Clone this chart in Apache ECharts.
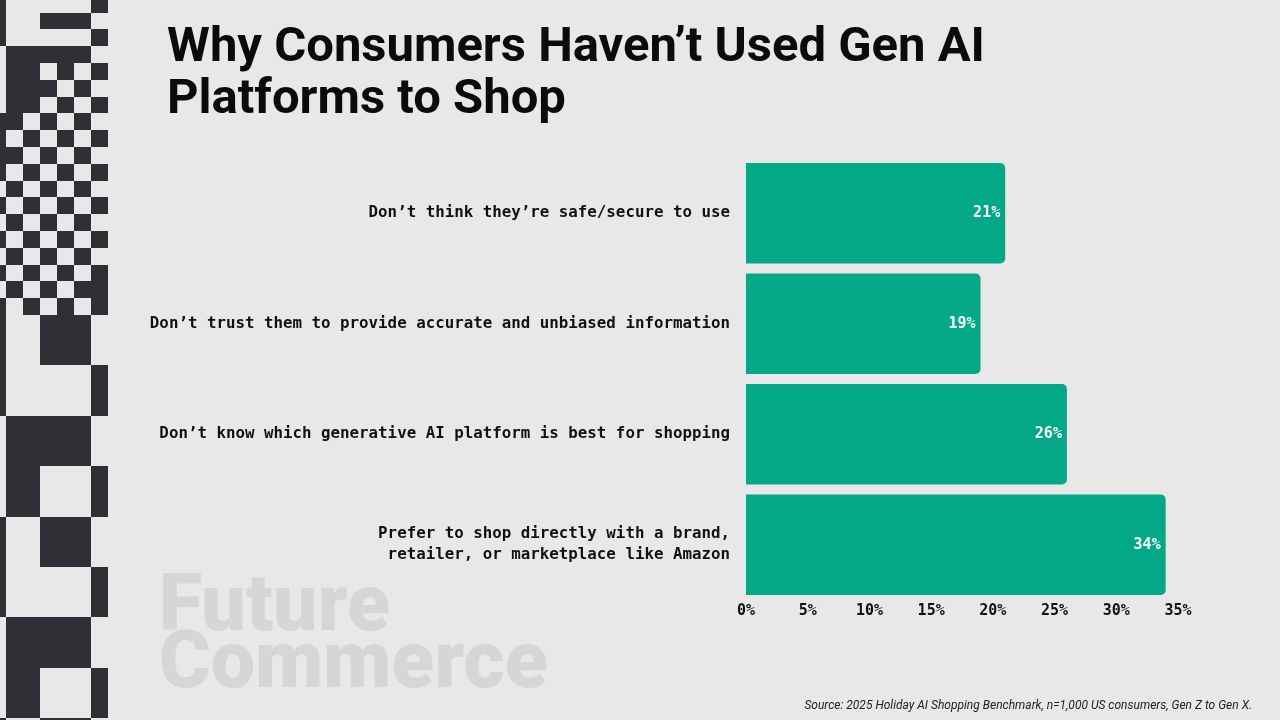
<!DOCTYPE html>
<html>
<head>
<meta charset="utf-8">
<title>Why Consumers Haven’t Used Gen AI Platforms to Shop</title>
<script src="https://cdn.jsdelivr.net/npm/echarts/dist/echarts.min.js"></script>
<style>
  html, body { margin: 0; padding: 0; background: #e8e8e8; }
  #chart { width: 1280px; height: 720px; }
</style>
</head>
<body>
<div id="chart"></div>
<script>
const reasons = [
    'Don’t think they’re safe/secure to use',
    'Don’t trust them to provide accurate and unbiased information',
    'Don’t know which generative AI platform is best for shopping',
    'Prefer to shop directly with a brand,\nretailer, or marketplace like Amazon',
];
const shares = [21, 19, 26, 34];
const xTicks = [0, 5, 10, 15, 20, 25, 30, 35];

// left-edge decoration, one string per row, '#' = dark cell
const checker = [
    '#.....#', '#..###.', '#.....#', '.#####.', '.##.#.#', '.###.#.',
    '.##.#.#', '##.#.#.', '#.#.#.#', '##.#.#.', '#.#.#.#', '.#.#.#.',
    '#.#.#.#', '.#.#.#.', '#.#.#.#', '.#.#.#.', '#.#.#.#', '.#.#.##',
    '#.#.#.#', '#..###.', '#..###.', '#..###.', '#.....#', '#.....#',
    '#.....#', '.#####.', '.#####.', '.#####.', '.##...#', '.##...#',
    '.##...#', '#..###.', '#..###.', '#..###.', '#.....#', '#.....#',
    '#.....#', '.#####.', '.#####.', '.#####.', '.##...#', '.##...#',
    '.##...#', '#..###.',
];

const chart = echarts.init(document.getElementById('chart'));

// snap cell edges to whole pixels so neighbouring cells don't leave seams
const rowEdge = (r) => Math.round(-4.3 + r * 16.8);
const cells = [];
checker.forEach((row, r) => {
    row.split('').forEach((ch, c) => {
        if (ch !== '#') return;
        const x = -11 + c * 17;
        const y = rowEdge(r);
        cells.push({
            type: 'rect',
            shape: {x, y, width: 17, height: rowEdge(r + 1) - y},
            style: {fill: '#2f3035'},
            silent: true,
        });
    });
});

const option = {
    backgroundColor: '#e8e8e8',
    animation: false,
    title: {
        text: 'Why Consumers Haven’t Used Gen AI\nPlatforms to Shop',
        left: 162,
        top: 18,
        textStyle: {
            fontFamily: 'Roboto',
            fontWeight: 'bold',
            fontSize: 49,
            lineHeight: 52,
            color: '#0b0b0b',
        },
    },
    grid: {left: 746, right: 102, top: 158, bottom: 120, containLabel: false},
    xAxis: {
        type: 'value',
        min: 0,
        max: 35,
        interval: 5,
        axisLine: {show: false},
        axisTick: {show: false},
        splitLine: {show: false},
        axisLabel: {
            margin: 4,
            formatter: (v) => (xTicks.includes(v) ? v + '%' : ''),
            fontFamily: 'DejaVu Sans Mono',
            fontWeight: 'bold',
            fontSize: 15,
            color: '#111',
        },
    },
    yAxis: {
        type: 'category',
        inverse: true,
        data: reasons,
        axisLine: {show: false},
        axisTick: {show: false},
        axisLabel: {
            margin: 16,
            fontFamily: 'DejaVu Sans Mono',
            fontWeight: 'bold',
            fontSize: 15.8,
            lineHeight: 21,
            color: '#111',
            align: 'right',
        },
    },
    series: [
        {
            type: 'bar',
            data: shares,
            barCategoryGap: '9%',
            itemStyle: {color: '#03a887', borderRadius: [0, 5, 5, 0]},
            label: {
                show: true,
                position: 'insideRight',
                distance: 5,
                formatter: '{c}%',
                fontFamily: 'DejaVu Sans Mono',
                fontWeight: 'bold',
                fontSize: 15,
                color: '#fff',
            },
        },
    ],
    graphic: [
        ...cells,
        {
            type: 'text',
            left: 159,
            top: 571,
            silent: true,
            z: -1,
            style: {
                text: 'Future\nCommerce',
                font: '900 79px Roboto',
                lineHeight: 57,
                fill: '#d6d6d6',
            },
        },
        {
            type: 'text',
            right: 28,
            top: 700,
            silent: true,
            style: {
                text: 'Source: 2025 Holiday AI Shopping Benchmark, n=1,000 US consumers, Gen Z to Gen X.',
                font: 'italic 12px Roboto',
                fill: '#222',
            },
        },
    ],
};

chart.setOption(option);
</script>
</body>
</html>
